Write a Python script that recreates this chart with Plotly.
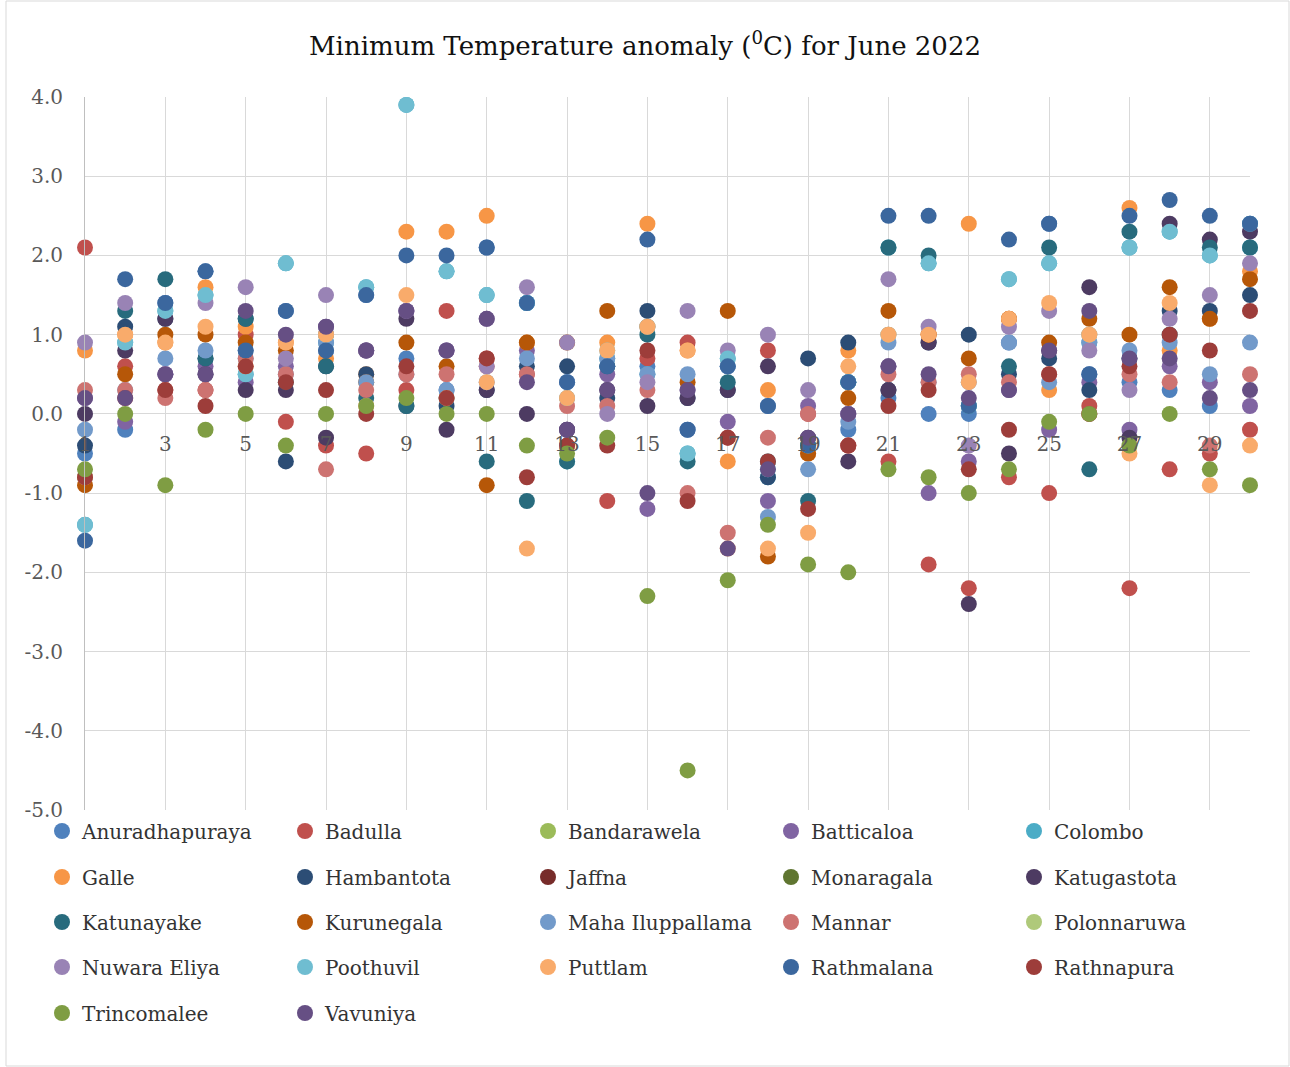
import plotly.graph_objects as go

days = list(range(1, 31))

anuradhapuraya = [-0.5, -0.2, 1.4, 1.8, 0.8, 1.3, 0.8, 1.5, 0.7, 0.3, 2.1, 1.4, 0.4, 0.6, 0.6, -0.2, 0.6, 0.1, -0.4, -0.2, 0.2, 0.0, 0.0, 0.9, 2.4, 0.5, 0.4, 0.3, 0.1, 2.4]
badulla = [2.1, 0.6, 0.3, 0.3, 1.0, -0.1, -0.4, -0.5, 0.3, 1.3, 0.7, 0.5, -0.4, -1.1, 0.7, 0.9, -0.3, 0.8, 0.0, -0.4, -0.6, -1.9, -2.2, -0.8, -1.0, 0.1, -2.2, -0.7, -0.5, -0.2]
bandarawela = [None] * 30
batticaloa = [0.2, -0.1, 0.5, 0.6, 0.4, 0.6, 1.1, 0.8, 1.3, 0.8, 1.2, 0.8, -0.2, 0.5, -1.2, 0.3, -0.1, -1.1, 0.1, 0.0, 0.6, -1.0, -0.6, 0.3, -0.2, 0.4, -0.2, 0.6, 0.4, 0.1]
colombo = [-1.4, 0.9, 1.3, 1.5, 0.5, 1.9, 0.9, 1.6, 3.9, 1.8, 1.5, 1.4, -0.6, 0.7, 0.5, -0.5, 0.7, -0.8, -0.4, 0.4, 2.1, 1.9, 0.1, 1.7, 1.9, 0.9, 2.1, 2.3, 2.0, 2.1]
galle = [0.8, 1.0, 0.9, 1.6, 1.1, 0.9, 0.7, 0.5, 2.3, 2.3, 2.5, 0.9, 0.2, 0.9, 2.4, 0.8, -0.6, 0.3, -0.5, 0.8, 1.0, 1.0, 2.4, 1.2, 0.3, 1.0, 2.6, 0.8, 1.2, 1.8]
hambantota = [-0.4, 1.1, 1.2, 0.7, 1.2, -0.6, 0.6, 0.5, 0.1, 0.1, 0.3, 0.6, 0.6, 0.2, 1.3, 0.2, 0.3, -0.8, 0.7, 0.9, 0.3, 0.9, 1.0, 0.5, 0.7, 0.3, 0.7, 1.3, 1.3, 1.5]
jaffna = [None] * 30
monaragala = [None] * 30
katugastota = [0.0, 0.8, 1.2, 0.5, 0.3, 0.3, -0.3, 0.8, 1.2, -0.2, 0.3, 0.0, -0.2, 0.3, 0.1, 0.2, 0.3, 0.6, -0.3, -0.6, 0.3, 0.9, -2.4, -0.5, 0.8, 1.6, -0.3, 2.4, 2.2, 2.3]
katunayake = [-0.8, 1.3, 1.7, 0.7, 1.2, 0.4, 0.6, 0.2, 0.1, 0.2, -0.6, -1.1, -0.6, 0.6, 1.0, -0.6, 0.4, -0.6, -1.1, 0.4, 2.1, 2.0, 0.1, 0.6, 2.1, -0.7, 2.3, 1.0, 2.1, 2.1]
kurunegala = [-0.9, 0.5, 1.0, 1.0, 0.9, 0.8, 1.0, 0.4, 0.9, 0.6, -0.9, 0.9, 0.9, 1.3, 1.1, 0.4, 1.3, -1.8, -0.5, 0.2, 1.3, 1.0, 0.7, 1.2, 0.9, 1.2, 1.0, 1.6, 1.2, 1.7]
maha_iluppallama = [-0.2, 0.3, 0.7, 0.8, 0.7, 0.5, 0.9, 0.4, 0.5, 0.3, 0.4, 0.7, 0.4, 0.7, 0.5, 0.5, 0.6, -1.3, -0.7, -0.1, 0.9, 0.4, 0.4, 0.9, 0.4, 0.9, 0.8, 0.9, 0.5, 0.9]
mannar = [0.3, 0.3, 0.2, 0.3, 0.7, 0.5, -0.7, 0.3, 0.5, 0.5, 0.6, 0.5, 0.1, 0.1, 0.3, -1.0, -1.5, -0.3, 0.0, -0.4, 0.5, 0.4, 0.5, 0.4, 0.5, 0.0, 0.5, 0.4, -0.4, 0.5]
polonnaruwa = [None] * 30
nuwara_eliya = [0.9, 1.4, 0.5, 1.4, 1.6, 0.7, 1.5, 0.8, 1.3, 0.8, 0.6, 1.6, 0.9, 0.0, 0.4, 1.3, 0.8, 1.0, 0.3, 0.0, 1.7, 1.1, -0.4, 1.1, 1.3, 0.8, 0.3, 1.2, 1.5, 1.9]
poothuvil = [-1.4, 0.9, 1.3, 1.5, 0.5, 1.9, 1.0, 1.6, 3.9, 1.8, 1.5, 1.4, 0.2, 0.8, 1.1, -0.5, 0.7, -0.7, -0.4, 0.4, 1.0, 1.9, 0.1, 1.7, 1.9, 1.0, 2.1, 2.3, 2.0, 2.4]
puttlam = [-0.8, 1.0, 0.9, 1.1, 0.6, 0.9, 1.0, 0.1, 1.5, 0.2, 0.4, -1.7, 0.2, 0.8, 1.1, 0.8, -1.7, -1.7, -1.5, 0.6, 1.0, 1.0, 0.4, 1.2, 1.4, 1.0, -0.5, 1.4, -0.9, -0.4]
rathmalana = [-1.6, 1.7, 1.4, 1.8, 0.8, 1.3, 0.8, 1.5, 2.0, 2.0, 2.1, 1.4, 0.4, 0.6, 2.2, -0.2, 0.6, 0.1, -0.4, 0.4, 2.5, 2.5, 0.1, 2.2, 2.4, 0.5, 2.5, 2.7, 2.5, 2.4]
rathnapura = [-0.8, 0.2, 0.3, 0.1, 0.6, 0.4, 0.3, 0.0, 0.6, 0.2, 0.7, -0.8, -0.4, -0.4, 0.8, -1.1, -0.3, -0.6, -1.2, -0.4, 0.1, 0.3, -0.7, -0.2, 0.5, 0.0, 0.6, 1.0, 0.8, 1.3]
trincomalee = [-0.7, 0.0, -0.9, -0.2, 0.0, -0.4, 0.0, 0.1, 0.2, 0.0, 0.0, -0.4, -0.5, -0.3, -2.3, -4.5, -2.1, -1.4, -1.9, -2.0, -0.7, -0.8, -1.0, -0.7, -0.1, 0.0, -0.4, 0.0, -0.7, -0.9]
vavuniya = [0.2, 0.2, 0.5, 0.5, 1.3, 1.0, 1.1, 0.8, 1.3, 0.8, 1.2, 0.4, -0.2, 0.3, -1.0, 0.3, -1.7, -0.7, -0.3, 0.0, 0.6, 0.5, 0.2, 0.3, 0.8, 1.3, 0.7, 0.7, 0.2, 0.3]

y_ticks = [4, 3, 2, 1, 0, -1, -2, -3, -4, -5]
x_ticks = list(range(1, 30, 2))

series = [
    ("Anuradhapuraya", anuradhapuraya, "#4F81BD"),
    ("Badulla", badulla, "#C0504D"),
    ("Bandarawela", bandarawela, "#9BBB59"),
    ("Batticaloa", batticaloa, "#8064A2"),
    ("Colombo", colombo, "#4BACC6"),
    ("Galle", galle, "#F79646"),
    ("Hambantota", hambantota, "#2C4D75"),
    ("Jaffna", jaffna, "#772C2A"),
    ("Monaragala", monaragala, "#5F7530"),
    ("Katugastota", katugastota, "#4D3B62"),
    ("Katunayake", katunayake, "#286B7D"),
    ("Kurunegala", kurunegala, "#B65708"),
    ("Maha Iluppallama", maha_iluppallama, "#729ACA"),
    ("Mannar", mannar, "#CD7371"),
    ("Polonnaruwa", polonnaruwa, "#AFC97A"),
    ("Nuwara Eliya", nuwara_eliya, "#9983B5"),
    ("Poothuvil", poothuvil, "#6FBDD1"),
    ("Puttlam", puttlam, "#F9AB6B"),
    ("Rathmalana", rathmalana, "#3B679E"),
    ("Rathnapura", rathnapura, "#9D3D3A"),
    ("Trincomalee", trincomalee, "#7F9D43"),
    ("Vavuniya", vavuniya, "#664F84"),
]

FONT = "DejaVu Serif"
legend_names = ["legend", "legend2", "legend3", "legend4", "legend5"]

fig = go.Figure()
for i, (name, vals, col) in enumerate(series):
    fig.add_trace(go.Scatter(
        x=days, y=vals, name=name, mode="markers",
        marker=dict(size=16, color=col, line=dict(width=0)),
        cliponaxis=False,
        legend=legend_names[i // 5],
    ))

W, H = 1290, 1067
L, R, T, B = 85, 40, 97, 257
pw = W - L - R
ph = H - T - B
row_pix = [831, 877, 922, 967, 1013]

layout_legends = {}
for k, ln in enumerate(legend_names):
    layout_legends[ln] = dict(
        orientation="h",
        x=(42 - L) / pw, xanchor="left",
        y=((H - B) - row_pix[k]) / ph, yanchor="middle",
        entrywidthmode="pixels", entrywidth=198,
        font=dict(family=FONT, size=20, color="#333333"),
        bgcolor="rgba(0,0,0,0)", itemclick=False,
        traceorder="normal",
    )

fig.update_layout(
    width=W, height=H,
    margin=dict(l=L, r=R, t=T, b=B),
    paper_bgcolor="white", plot_bgcolor="white",
    title=dict(text="Minimum Temperature anomaly (<sup>0</sup>C) for June 2022",
               x=0.5, xref="container", xanchor="center",
               y=1 - 46 / H, yref="container", yanchor="middle",
               font=dict(family=FONT, size=26, color="#111111")),
    showlegend=True,
    **layout_legends,
)

fig.update_xaxes(
    range=[1, 30], tickvals=x_ticks, ticktext=[str(v) for v in x_ticks],
    showgrid=True, gridcolor="#D9D9D9", gridwidth=1,
    zeroline=False, showline=False,
    anchor="free", position=5 / 9,
    ticks="", ticklabelstandoff=16,
    tickfont=dict(family=FONT, size=20, color="#595959"),
    layer="above traces",
)
fig.update_yaxes(
    range=[-5, 4], tickvals=y_ticks, ticktext=["%.1f" % v for v in y_ticks],
    showgrid=True, gridcolor="#D9D9D9", gridwidth=1,
    zeroline=False, showline=True, linecolor="#BFBFBF", linewidth=1,
    ticks="", ticklabelstandoff=17,
    tickfont=dict(family=FONT, size=20, color="#595959"),
)

fig.add_shape(type="rect", xref="paper", yref="paper",
              x0=(6 - L) / pw, x1=(1289 - L) / pw,
              y0=((H - B) - 1066) / ph, y1=((H - B) - 1) / ph,
              line=dict(color="#D9D9D9", width=1), layer="below")

fig.write_html("out.html", config={"displayModeBar": False},
               post_script="document.body.style.margin='0px';")
